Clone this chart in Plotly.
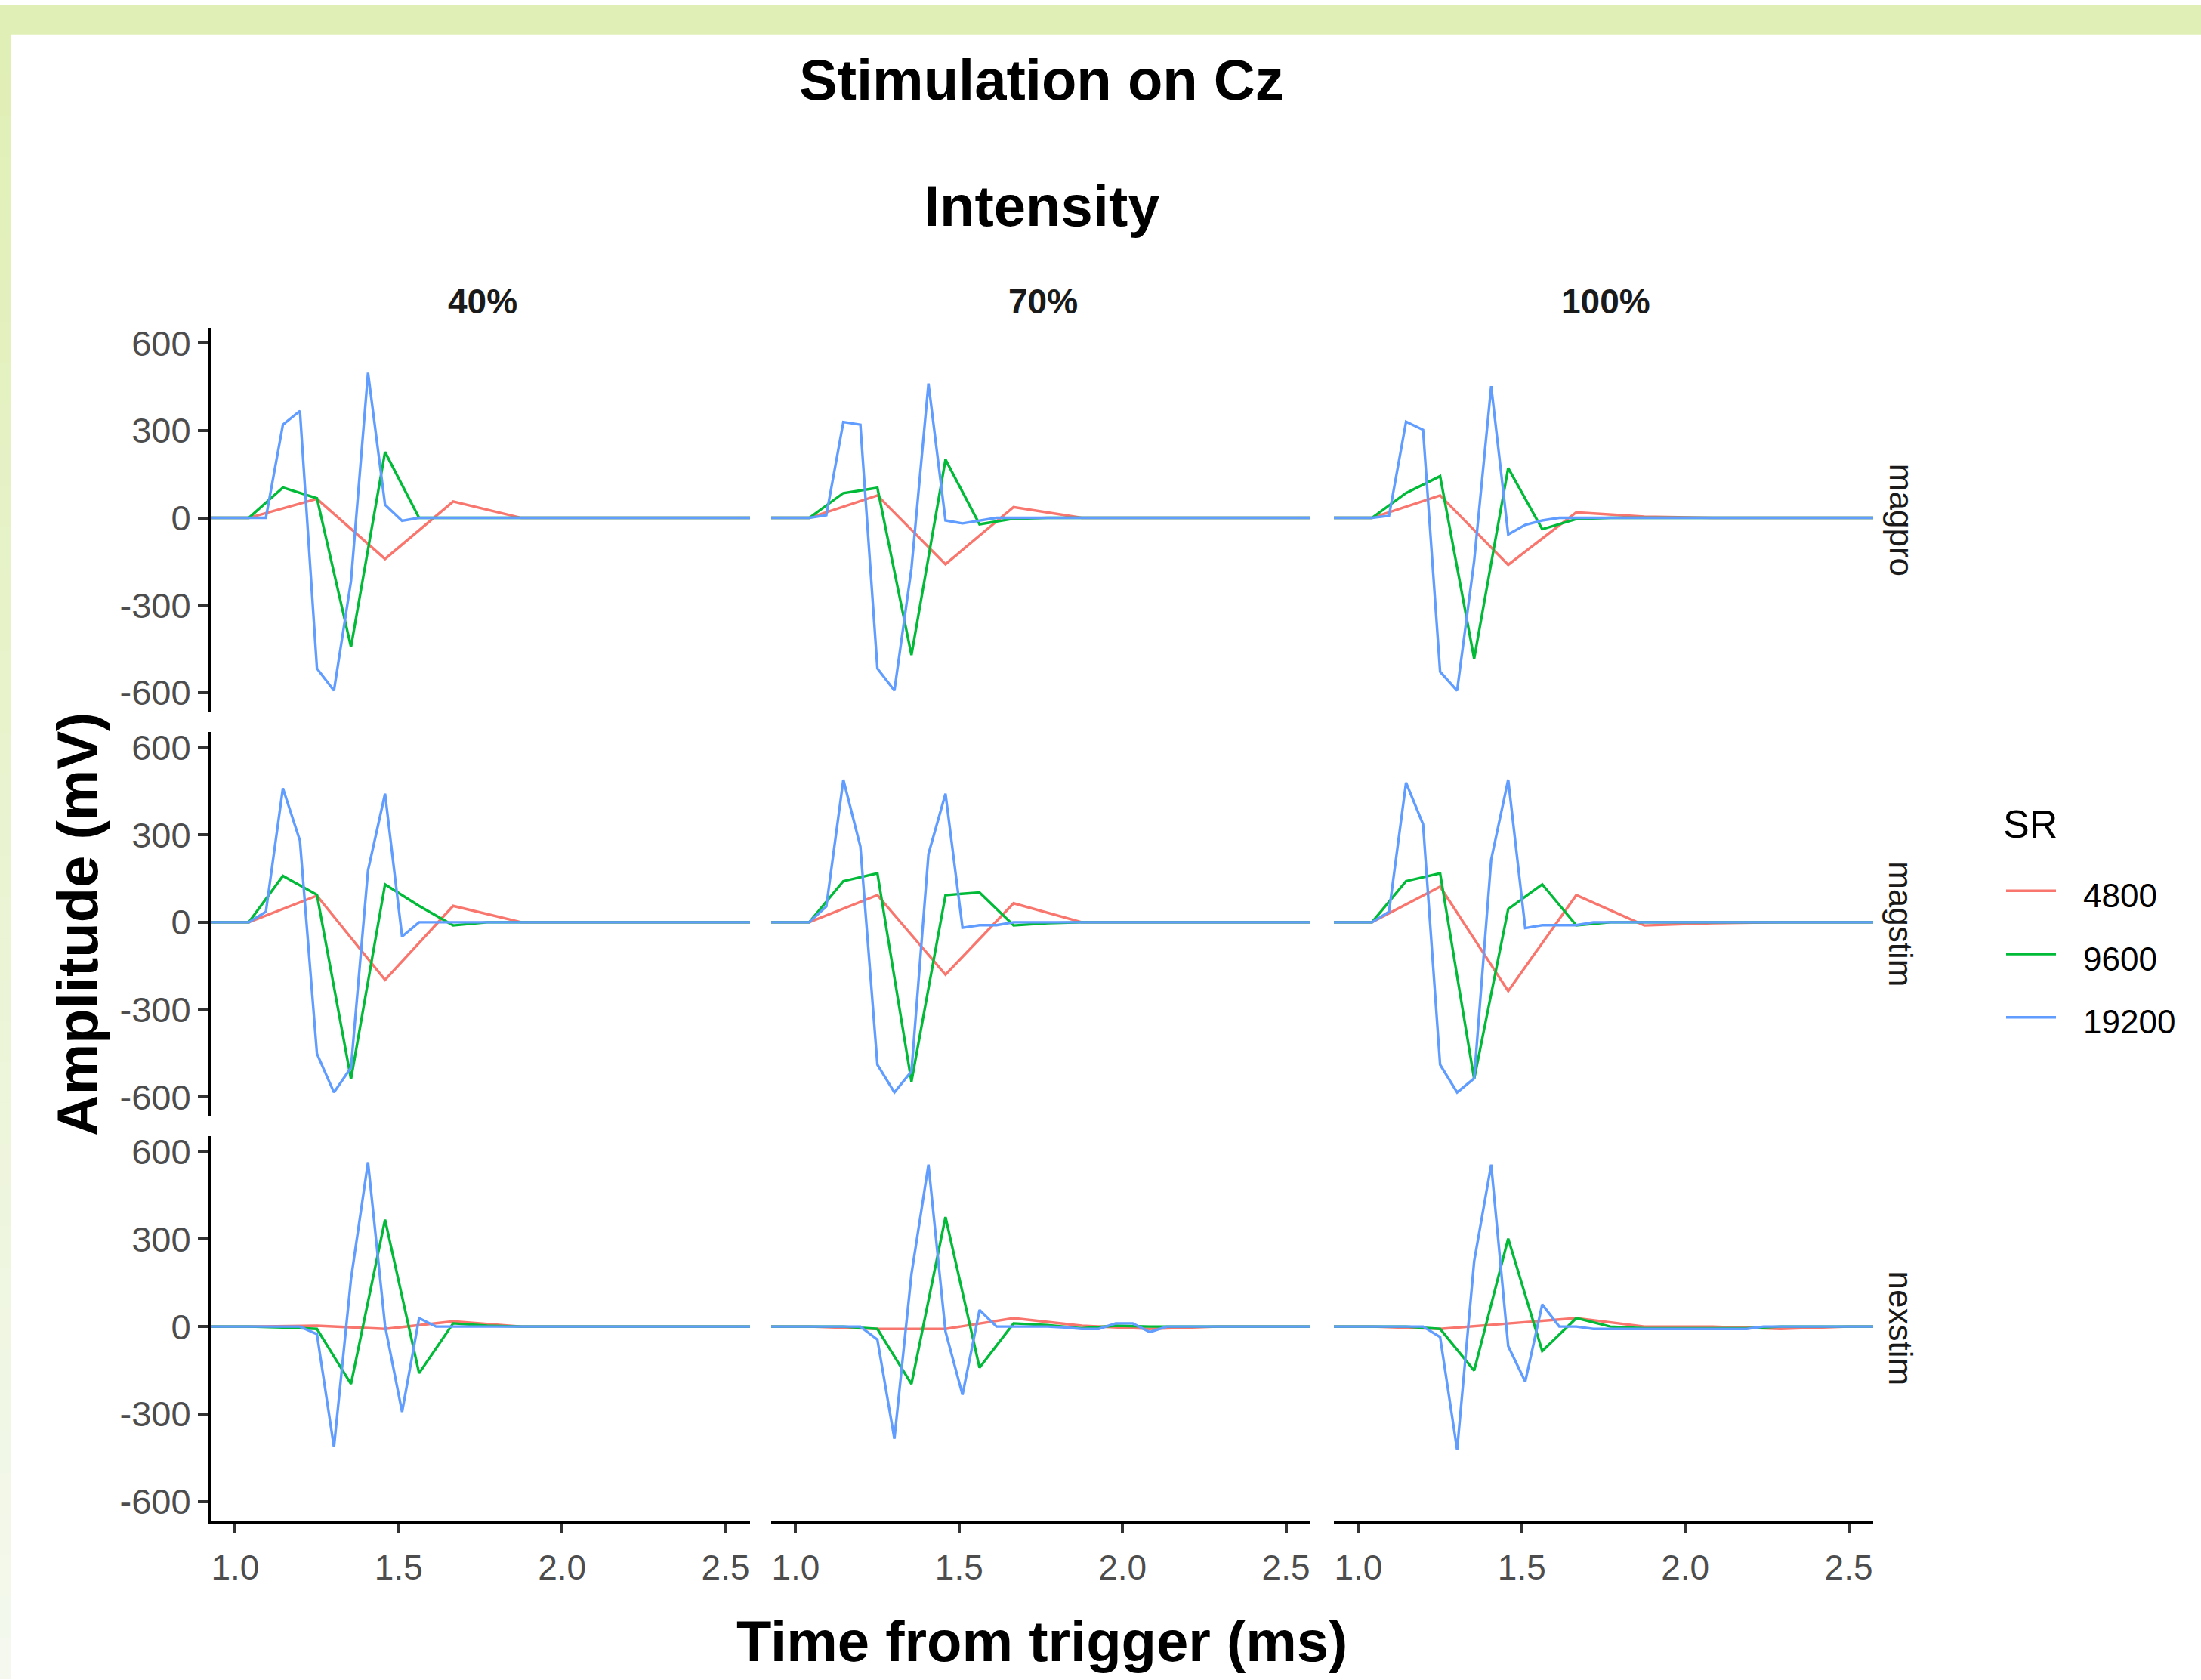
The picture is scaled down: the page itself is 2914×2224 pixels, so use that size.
import plotly.graph_objects as go

# ---------------- data ----------------
SAMPLE_RATES = [4800, 9600, 19200]
SR_LABELS = ["4800", "9600", "19200"]
SR_COLORS = ["#F8766D", "#00BA38", "#619CFF"]
FIRST_SAMPLE = {4800: 4, 9600: 8, 19200: 16}   # index of first listed sample

intensities = ["40%", "70%", "100%"]
devices = ["magpro", "magstim", "nexstim"]

x_ticks = [1.0, 1.5, 2.0, 2.5]
x_tick_labels = ["1.0", "1.5", "2.0", "2.5"]
y_ticks = [-600, -300, 0, 300, 600]
y_tick_labels = ["-600", "-300", "0", "300", "600"]

# 4800 Hz, samples 4..13
magpro_40_4800 = [0, 0, 65, -141, 56, 0, 0, 0, 0, 0]
magpro_70_4800 = [0, 0, 77, -159, 37, 0, 0, 0, 0, 0]
magpro_100_4800 = [0, 0, 77, -161, 19, 4, 0, 0, 0, 0]
magstim_40_4800 = [0, 0, 91, -198, 56, 0, 0, 0, 0, 0]
magstim_70_4800 = [0, 0, 93, -180, 65, 0, 0, 0, 0, 0]
magstim_100_4800 = [0, 0, 122, -236, 93, -11, -3, 0, 0, 0]
nexstim_40_4800 = [0, 0, 3, -8, 18, 0, 0, 0, 0, 0]
nexstim_70_4800 = [0, 0, -8, -8, 29, 3, -8, 0, 0, 0]
nexstim_100_4800 = [0, 0, -8, 11, 29, 0, 0, -8, 0, 0]

# 9600 Hz, samples 8..25
magpro_40_9600 = [0, 0, 0, 104, 67, -443, 226, 0, 0, 0, 0, 0, 0, 0, 0, 0, 0, 0]
magpro_70_9600 = [0, 0, 0, 85, 103, -471, 200, -22, -3, 0, 0, 0, 0, 0, 0, 0, 0, 0]
magpro_100_9600 = [0, 0, 0, 85, 143, -483, 171, -39, -4, 0, 0, 0, 0, 0, 0, 0, 0, 0]
magstim_40_9600 = [0, 0, 0, 159, 94, -538, 130, 56, -11, 0, 0, 0, 0, 0, 0, 0, 0, 0]
magstim_70_9600 = [0, 0, 0, 141, 168, -547, 93, 102, -11, -3, 0, 0, 0, 0, 0, 0, 0, 0]
magstim_100_9600 = [0, 0, 0, 141, 168, -538, 45, 130, -11, 0, 0, 0, 0, 0, 0, 0, 0, 0]
nexstim_40_9600 = [0, 0, 0, -3, -8, -197, 367, -160, 11, 3, 0, 0, 0, 0, 0, 0, 0, 0]
nexstim_70_9600 = [0, 0, 0, 0, -8, -197, 376, -141, 11, 5, -6, 3, 0, 0, 0, 0, 0, 0]
nexstim_100_9600 = [0, 0, 0, 0, -8, -151, 302, -84, 29, 0, -6, -6, -6, -6, 0, 0, 0, 0]

# 19200 Hz, samples 16..50
magpro_40_19200 = [0, 0, 0, 0, 0,
                   0, 320, 367, -517, -593, -217, 498, 45, -10, 0, 0, 0, 0, 0, 0,
                   0, 0, 0, 0, 0, 0, 0, 0, 0, 0, 0, 0, 0, 0, 0]
magpro_70_19200 = [0, 0, 0, 0, 0,
                   9, 329, 320, -517, -593, -174, 461, -9, -19, -10, 0, 0, 0, 0, 0,
                   0, 0, 0, 0, 0, 0, 0, 0, 0, 0, 0, 0, 0, 0, 0]
magpro_100_19200 = [0, 0, 0, 0, 0,
                    7, 330, 302, -528, -593, -148, 452, -57, -24, -9, 0, 0, 0, 0, 0,
                    0, 0, 0, 0, 0, 0, 0, 0, 0, 0, 0, 0, 0, 0, 0]
magstim_40_19200 = [0, 0, 0, 0, 0,
                    36, 460, 280, -451, -584, -499, 178, 441, -49, 0, 0, 0, 0, 0, 0,
                    0, 0, 0, 0, 0, 0, 0, 0, 0, 0, 0, 0, 0, 0, 0]
magstim_70_19200 = [0, 0, 0, 0, 0,
                    54, 489, 260, -489, -584, -512, 234, 441, -19, -10, -10, 0, 0, 0, 0,
                    0, 0, 0, 0, 0, 0, 0, 0, 0, 0, 0, 0, 0, 0, 0]
magstim_100_19200 = [0, 0, 0, 0, 0,
                     36, 479, 336, -489, -584, -536, 215, 489, -20, -10, -10, -10, 0, 0, 0,
                     0, 0, 0, 0, 0, 0, 0, 0, 0, 0, 0, 0, 0, 0, 0]
nexstim_40_19200 = [0, 0, 0, 0, 0,
                    0, 0, 0, -26, -414, 163, 564, 3, -293, 29, 0, 0, 0, 0, 0,
                    0, 0, 0, 0, 0, 0, 0, 0, 0, 0, 0, 0, 0, 0, 0]
nexstim_70_19200 = [0, 0, 0, 0, 0,
                    0, 0, 0, -45, -385, 180, 556, -17, -234, 57, 0, 0, 0, 0, -3,
                    -8, -8, 11, 11, -19, 0, 0, 0, 0, 0, 0, 0, 0, 0, 0]
nexstim_100_19200 = [0, 0, 0, 0, 0,
                     0, 0, 0, -36, -423, 224, 556, -67, -189, 76, 0, 0, -8, -8, -8,
                     -8, -8, -8, -8, -8, -8, -8, 0, 0, 0, 0, 0, 0, 0, 0]

series = {
    ("magpro", "40%"): [magpro_40_4800, magpro_40_9600, magpro_40_19200],
    ("magpro", "70%"): [magpro_70_4800, magpro_70_9600, magpro_70_19200],
    ("magpro", "100%"): [magpro_100_4800, magpro_100_9600, magpro_100_19200],
    ("magstim", "40%"): [magstim_40_4800, magstim_40_9600, magstim_40_19200],
    ("magstim", "70%"): [magstim_70_4800, magstim_70_9600, magstim_70_19200],
    ("magstim", "100%"): [magstim_100_4800, magstim_100_9600, magstim_100_19200],
    ("nexstim", "40%"): [nexstim_40_4800, nexstim_40_9600, nexstim_40_19200],
    ("nexstim", "70%"): [nexstim_70_4800, nexstim_70_9600, nexstim_70_19200],
    ("nexstim", "100%"): [nexstim_100_4800, nexstim_100_9600, nexstim_100_19200],
}


def sample_times(sr, n):
    k0 = FIRST_SAMPLE[sr]
    return [(k0 + i) * 1000.0 / sr for i in range(n)]


# ---------------- layout geometry (pixels) ----------------
W, H = 2914, 2224
FONT = "Liberation Sans, Arial, Helvetica, sans-serif"
col_px = [(279, 993), (1021, 1735), (1766, 2480)]
row_px = [(429, 939), (966, 1476), (1503, 2013)]
X_RANGE = [0.925, 2.575]
Y_RANGE = [-665, 653]


def px_x(p):
    return p / W


def px_y(p):
    return 1 - p / H


fig = go.Figure()
layout_axes = {}

for r, dev in enumerate(devices):
    for c, inten in enumerate(intensities):
        idx = r * 3 + c + 1
        xa = "x" if idx == 1 else f"x{idx}"
        ya = "y" if idx == 1 else f"y{idx}"
        for s, sr in enumerate(SAMPLE_RATES):
            vals = series[(dev, inten)][s]
            fig.add_trace(go.Scatter(
                x=sample_times(sr, len(vals)), y=vals, mode="lines",
                line=dict(color=SR_COLORS[s], width=3.4),
                name=SR_LABELS[s], legendgroup=SR_LABELS[s],
                showlegend=False, xaxis=xa, yaxis=ya,
                hoverinfo="x+y+name"))
        bottom = (r == 2)
        left = (c == 0)
        layout_axes["xaxis" if idx == 1 else f"xaxis{idx}"] = dict(
            domain=[px_x(col_px[c][0]), px_x(col_px[c][1])],
            range=X_RANGE, anchor=ya, showgrid=False, zeroline=False,
            showline=bottom, linecolor="black", linewidth=4,
            ticks="outside" if bottom else "", ticklen=13, tickwidth=4,
            tickcolor="#333333",
            tickvals=x_ticks, ticktext=x_tick_labels,
            showticklabels=bottom, ticklabelstandoff=6,
            tickfont=dict(family=FONT, size=46, color="#4D4D4D"),
            fixedrange=True)
        layout_axes["yaxis" if idx == 1 else f"yaxis{idx}"] = dict(
            domain=[px_y(row_px[r][1]), px_y(row_px[r][0])],
            range=Y_RANGE, anchor=xa, showgrid=False, zeroline=False,
            showline=left, linecolor="black", linewidth=4,
            ticks="outside" if left else "", ticklen=13, tickwidth=4,
            tickcolor="#333333",
            tickvals=y_ticks, ticktext=y_tick_labels,
            showticklabels=left, ticklabelstandoff=0,
            tickfont=dict(family=FONT, size=47, color="#4D4D4D"),
            fixedrange=True)

annotations = []


def ann(text, x, y, size, bold=False, color="#000000", angle=0,
        xanchor="center", yanchor="middle"):
    annotations.append(dict(
        text=f"<b>{text}</b>" if bold else text,
        x=px_x(x), y=px_y(y), xref="paper", yref="paper",
        showarrow=False, textangle=angle, xanchor=xanchor, yanchor=yanchor,
        font=dict(family=FONT, size=size, color=color)))


# titles
ann("Stimulation on Cz", 1379, 100, 76, bold=True)
ann("Intensity", 1379, 267, 76, bold=True)
ann("Time from trigger (ms)", 1379, 2173, 76, bold=True)
ann("Amplitude (mV)", 102, 1221, 76, bold=True, angle=-90)

# strip labels
for c, inten in enumerate(intensities):
    ann(inten, (col_px[c][0] + col_px[c][1]) / 2 + 3, 394, 46, bold=True, color="#1A1A1A")
for r, dev in enumerate(devices):
    ann(dev, 2517, (row_px[r][0] + row_px[r][1]) / 2, 44, color="#1A1A1A", angle=90)

# legend (drawn)
ann("SR", 2650, 1088, 52, xanchor="left")
shapes = []
legend_y = [1177, 1261, 1345]
for s in range(3):
    shapes.append(dict(type="line", xref="paper", yref="paper",
                       x0=px_x(2656), x1=px_x(2722),
                       y0=px_y(legend_y[s]), y1=px_y(legend_y[s]),
                       line=dict(color=SR_COLORS[s], width=3.4)))
    ann(SR_LABELS[s], 2756, legend_y[s] + 6, 44, xanchor="left")

# decorative light-green border (top band and fading left band)
shapes.append(dict(type="rect", xref="paper", yref="paper",
                   x0=0, x1=1, y0=px_y(40), y1=1, line=dict(width=0),
                   fillcolor="#E0EFB5", layer="below"))
top_c = (224, 239, 181)
bot_c = (244, 248, 238)
n_steps = 40
for i in range(n_steps):
    t = i / (n_steps - 1)
    col = tuple(round(top_c[j] + (bot_c[j] - top_c[j]) * t) for j in range(3))
    y0 = 40 + (H - 40) * i / n_steps
    y1 = 40 + (H - 40) * (i + 1) / n_steps
    shapes.append(dict(type="rect", xref="paper", yref="paper",
                       x0=0, x1=px_x(15), y0=px_y(y1), y1=px_y(y0) + 0.0005,
                       line=dict(width=0),
                       fillcolor="rgb(%d,%d,%d)" % col, layer="below"))

fig.update_layout(
    width=W, height=H, autosize=False,
    margin=dict(l=0, r=0, t=0, b=0, pad=0),
    paper_bgcolor="white", plot_bgcolor="white",
    showlegend=False,
    annotations=annotations, shapes=shapes,
    font=dict(family=FONT),
    **layout_axes)

fig.write_html("out.html", post_script="document.body.style.margin='0px';",
               config={"displayModeBar": False})
